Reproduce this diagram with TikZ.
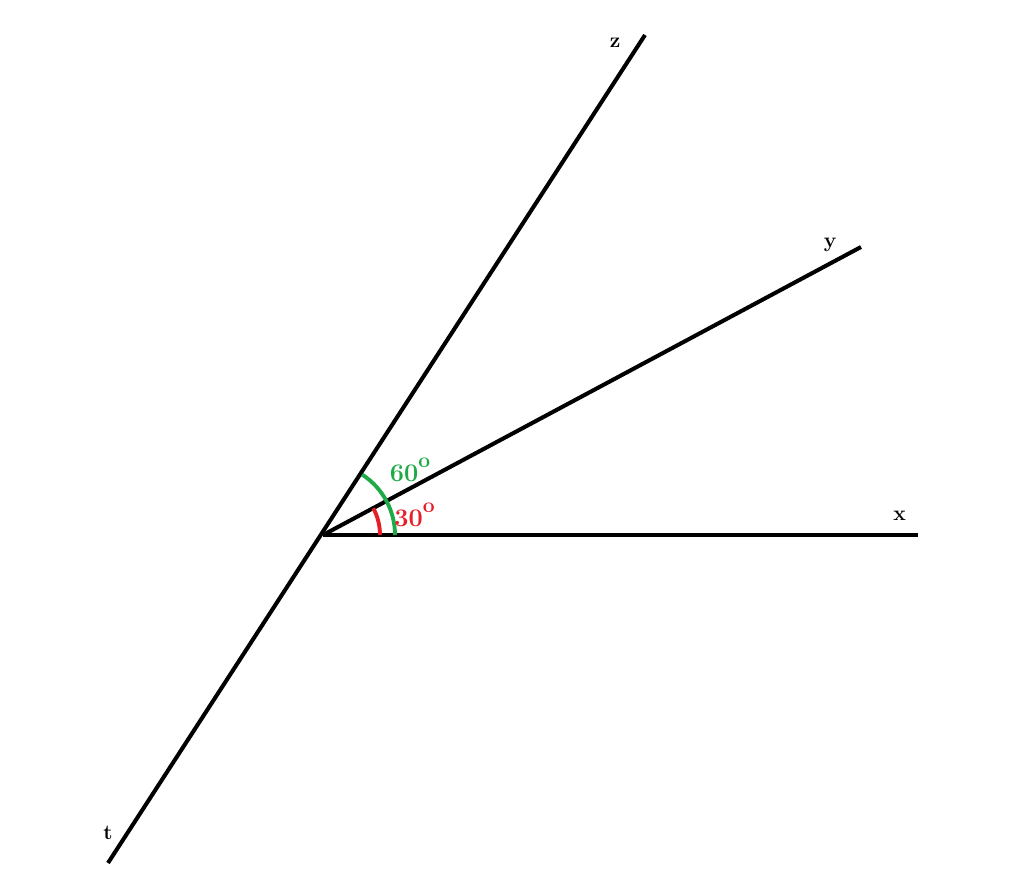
\documentclass[tikz,border=0pt]{standalone}
\usepackage{tikz}
\usetikzlibrary{positioning}
\definecolor{arcgreen}{RGB}{30,170,70}
\definecolor{arcred}{RGB}{230,30,40}
\tikzset{
  ray/.style={draw, line width=2.3pt},
  lbl/.style={font=\bfseries\large, inner sep=1pt},
  anglbl/.style={font=\bfseries\Large, inner sep=1pt}
}
\newcommand{\degsup}{\raisebox{0.55em}{\large o}}
\begin{document}
\begin{tikzpicture}
\useasboundingbox (-6.46,-6.7) rectangle (14.02,10.7);
\coordinate (O) at (0,0);
\coordinate (X) at (11.9,0);
\coordinate (Y) at (10.76,5.76);
\coordinate (Z) at (6.44,10.0);
\coordinate (T) at (-4.3,-6.56);
% rays
\draw[ray] (O) -- (X);
\draw[ray] (O) -- (Y);
\draw[ray] (T) -- (Z);
% angles
\draw[arcgreen, line width=2.2pt] (1.44,0) arc (0:57:1.44);
\draw[arcred, line width=2.2pt] (1.14,0) arc (0:28:1.14);
\node[anglbl, text=arcgreen] (a60) at (1.74,1.3) {60\degsup};
\node[anglbl, text=arcred] (a30) at (1.83,0.4) {30\degsup};
% labels
\node[lbl, left=0.45cm of Z, yshift=-0.15cm] (lz) {z};
\node[lbl, left=0.45cm of Y, yshift=0.05cm] (ly) {y};
\node[lbl, above left=0.25cm and 0.2cm of X] (lx) {x};
\node[lbl] (lt) at (-4.3,-5.96) {t};
\end{tikzpicture}
\end{document}
